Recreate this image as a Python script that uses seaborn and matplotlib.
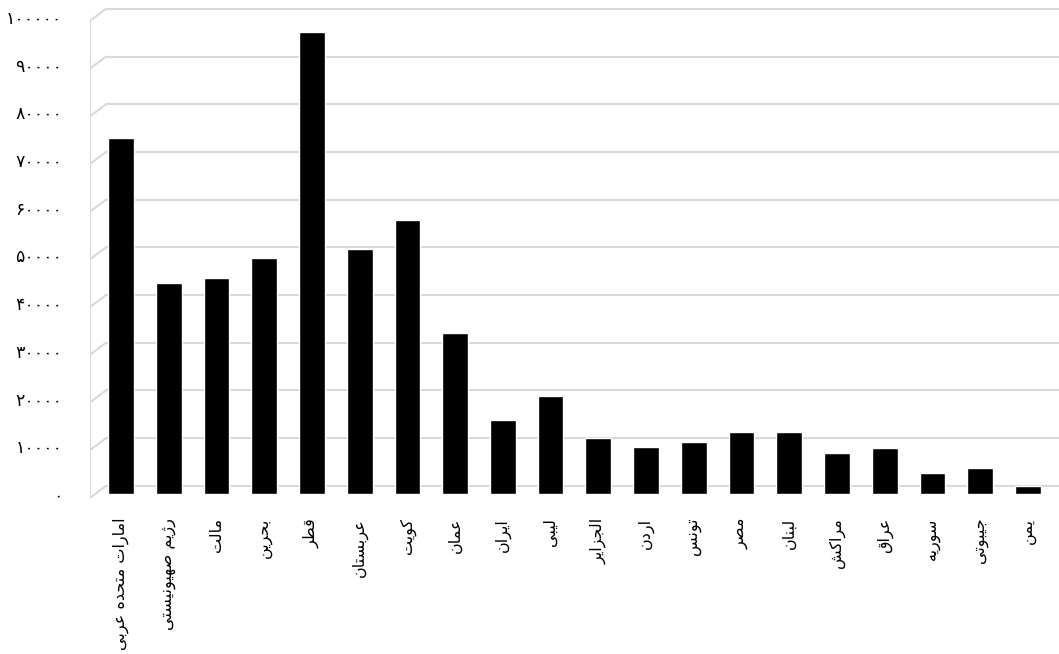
import matplotlib
matplotlib.use("Agg")
import matplotlib.pyplot as plt
import numpy as np
import pandas as pd
import seaborn as sns

# country names (logical order, Persian)
countries = [
    "امارات متحده عربی", "رژیم صهیونیستی", "مالت", "بحرین", "قطر",
    "عربستان", "کویت", "عمان", "ایران", "لیبی", "الجزایر", "اردن",
    "تونس", "مصر", "لبنان", "مراکش", "عراق", "سوریه", "جیبوتی", "یمن",
]
values = [
    74600, 44200, 45300, 49500, 96900,
    51400, 57400, 33800, 15500, 20500, 11700, 9900,
    10900, 13000, 13000, 8600, 9600, 4400, 5500, 1700,
]
yticks = [0, 10000, 20000, 30000, 40000, 50000, 60000, 70000, 80000, 90000, 100000]

# minimal arabic shaping: (isolated, final, initial, medial); None = right-joining only
FORMS = {
    "ا": (0xFE8D, 0xFE8E, None, None),
    "ب": (0xFE8F, 0xFE90, 0xFE91, 0xFE92),
    "ت": (0xFE95, 0xFE96, 0xFE97, 0xFE98),
    "ج": (0xFE9D, 0xFE9E, 0xFE9F, 0xFEA0),
    "ح": (0xFEA1, 0xFEA2, 0xFEA3, 0xFEA4),
    "د": (0xFEA9, 0xFEAA, None, None),
    "ر": (0xFEAD, 0xFEAE, None, None),
    "ز": (0xFEAF, 0xFEB0, None, None),
    "ژ": (0xFB8A, 0xFB8B, None, None),
    "س": (0xFEB1, 0xFEB2, 0xFEB3, 0xFEB4),
    "ش": (0xFEB5, 0xFEB6, 0xFEB7, 0xFEB8),
    "ص": (0xFEB9, 0xFEBA, 0xFEBB, 0xFEBC),
    "ط": (0xFEC1, 0xFEC2, 0xFEC3, 0xFEC4),
    "ع": (0xFEC9, 0xFECA, 0xFECB, 0xFECC),
    "ق": (0xFED5, 0xFED6, 0xFED7, 0xFED8),
    "ک": (0xFB8E, 0xFB8F, 0xFB90, 0xFB91),
    "ل": (0xFEDD, 0xFEDE, 0xFEDF, 0xFEE0),
    "م": (0xFEE1, 0xFEE2, 0xFEE3, 0xFEE4),
    "ن": (0xFEE5, 0xFEE6, 0xFEE7, 0xFEE8),
    "ه": (0xFEE9, 0xFEEA, 0xFEEB, 0xFEEC),
    "و": (0xFEED, 0xFEEE, None, None),
    "ی": (0xFBFC, 0xFBFD, 0xFBFE, 0xFBFF),
}


def shape(text):
    out = []
    for i, ch in enumerate(text):
        if ch not in FORMS:
            out.append(ch)
            continue
        prev = text[i - 1] if i > 0 else " "
        nxt = text[i + 1] if i + 1 < len(text) else " "
        iso, fin, ini, med = FORMS[ch]
        join_prev = prev in FORMS and FORMS[prev][2] is not None
        join_next = nxt in FORMS and ini is not None
        if join_prev and join_next:
            code = med
        elif join_prev:
            code = fin
        elif join_next:
            code = ini
        else:
            code = iso
        out.append(chr(code))
    return "".join(out)[::-1]


def fa_digits(n):
    return str(n).translate(str.maketrans("0123456789", "۰۱۲۳۴۵۶۷۸۹"))


sns.set_theme(style="white")
plt.rcParams["font.family"] = ["DejaVu Sans"]

W, H = 1059, 654
fig = plt.figure(figsize=(W / 100, H / 100), dpi=100)

# pixel mapping
ppu = 4.77 / 1000.0       # pixels per unit
y0_px = 494               # value 0
ymin, ymax = -1500, 103000
xl, xr = -0.649, 19.65
left_px = 90
bot_px = y0_px - ymin * ppu
top_px = y0_px - ymax * ppu
ax = fig.add_axes([left_px / W, 1 - bot_px / H, (W - left_px) / W, (bot_px - top_px) / H])

df = pd.DataFrame({"country": countries, "value": values})

# back wall gridlines with a small perspective stroke at the left
dx = 16 / 47.74
for v in yticks:
    ax.plot([xl, xl + dx], [v - 800, v + 1700], color="#d9d9d9", lw=1.5, zorder=0)
    ax.plot([xl + dx, xr], [v + 1700, v + 1700], color="#d9d9d9", lw=1.5, zorder=0)
ax.plot([xl, xl], [-800, 100000 - 800], color="#d9d9d9", lw=1.5, zorder=0)

sns.barplot(data=df, x="country", y="value", color="black", saturation=1,
            width=0.54, ax=ax, zorder=2)

ax.set_xlim(xl, xr)
ax.set_ylim(ymin, ymax)
ax.set_xticks(range(len(countries)))
ax.set_xticklabels([shape(c) for c in countries], rotation=90, fontsize=11.5, color="black")
ax.set_yticks(yticks)
ax.set_yticklabels([fa_digits(v) for v in yticks], fontsize=12.5, color="black")
ax.tick_params(axis="y", length=0, pad=20)
ax.tick_params(axis="x", length=0, pad=12)
ax.set_xlabel("")
ax.set_ylabel("")
for s in ax.spines.values():
    s.set_visible(False)
ax.grid(False)

fig.savefig("out.png", dpi=100)
